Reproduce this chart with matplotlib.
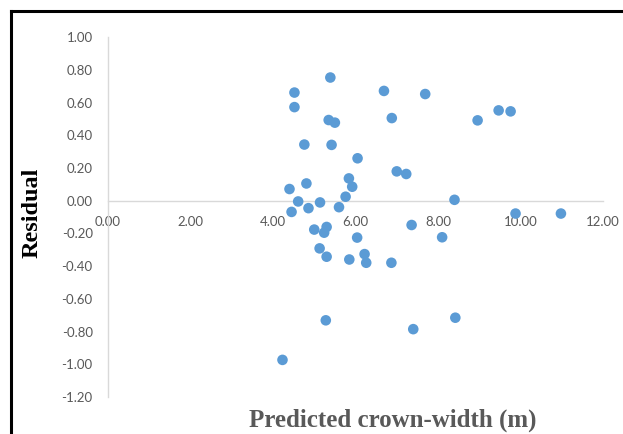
import matplotlib
matplotlib.use("Agg")
import matplotlib.pyplot as plt
from matplotlib.lines import Line2D
from matplotlib.ticker import FixedLocator, FuncFormatter

# Data
predicted = [5.39, 4.52, 4.52, 5.35, 5.50, 4.76, 5.42, 6.05, 6.69, 7.69,
             6.88, 7.00, 7.23, 5.84, 5.92, 4.81, 4.40, 5.76, 4.61, 5.14,
             4.86, 5.60, 4.45, 8.40, 9.47, 9.76, 8.96, 9.88, 10.98, 7.36,
             8.10, 5.00, 5.30, 5.24, 6.04, 5.13, 5.30, 5.85, 6.22, 6.26,
             6.87, 5.28, 7.40, 8.42, 4.23]
residual = [0.754, 0.662, 0.573, 0.494, 0.478, 0.344, 0.342, 0.260, 0.672, 0.653,
            0.506, 0.180, 0.164, 0.137, 0.086, 0.106, 0.072, 0.025, -0.004, -0.010,
            -0.045, -0.039, -0.068, 0.006, 0.553, 0.547, 0.492, -0.078, -0.078, -0.148,
            -0.223, -0.176, -0.160, -0.195, -0.225, -0.291, -0.342, -0.359, -0.326, -0.379,
            -0.379, -0.731, -0.785, -0.715, -0.973]
x_ticks = [0, 2, 4, 6, 8, 10, 12]
y_ticks = [-1.2, -1.0, -0.8, -0.6, -0.4, -0.2, 0.0, 0.2, 0.4, 0.6, 0.8, 1.0]
x_title = "Predicted crown-width (m)"
y_title = "Residual"

fig = plt.figure(figsize=(6.23, 4.34), dpi=100)
ax = fig.add_axes([108/623, 1-397/434, (603-108)/623, (397-37.3)/434])

ax.scatter(predicted, residual, s=58, color="#5B9BD5", edgecolors="none", zorder=3, clip_on=False)

ax.set_xlim(0, 12)
ax.set_ylim(-1.2, 1.0)
ax.xaxis.set_major_locator(FixedLocator(x_ticks))
ax.yaxis.set_major_locator(FixedLocator(y_ticks))
fmt = FuncFormatter(lambda v, p: f"{v:.2f}")
ax.xaxis.set_major_formatter(fmt)
ax.yaxis.set_major_formatter(fmt)

for s in ["top", "right"]:
    ax.spines[s].set_visible(False)
ax.spines["left"].set_color("#d9d9d9")
ax.spines["bottom"].set_color("#d9d9d9")
ax.spines["left"].set_linewidth(1.0)
ax.spines["bottom"].set_linewidth(1.0)
ax.spines["bottom"].set_position(("data", 0))

ax.tick_params(axis="both", length=0, labelsize=9.5, labelcolor="#595959")
ax.tick_params(axis="y", pad=11)
ax.tick_params(axis="x", pad=11)
for lab in ax.get_xticklabels() + ax.get_yticklabels():
    lab.set_family("Lato")

fig.text(32/623, 1-213/434, y_title, rotation=90, ha="center", va="center",
         fontsize=17.5, fontweight="bold", family="Liberation Serif", color="black")
fig.text(393/623, 1-420/434, x_title, ha="center", va="center",
         fontsize=18, fontweight="bold", family="Liberation Serif", color="#595959")

# figure frame (left and top black border)
fig.add_artist(Line2D([11/623, 11/623], [0, 1-11/434], color="black", linewidth=2.2,
                      transform=fig.transFigure, solid_capstyle="projecting"))
fig.add_artist(Line2D([11/623, 1], [1-11/434, 1-11/434], color="black", linewidth=2.2,
                      transform=fig.transFigure, solid_capstyle="projecting"))

fig.savefig("out.png", dpi=100)
